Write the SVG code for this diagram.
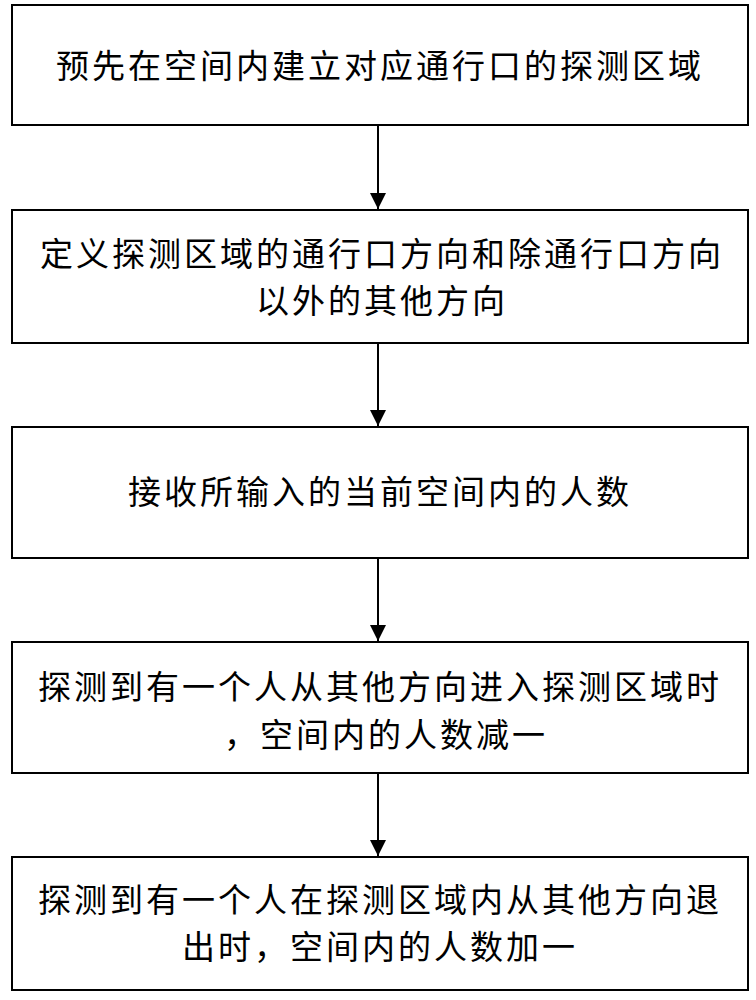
<svg xmlns="http://www.w3.org/2000/svg" width="756" height="1000" viewBox="0 0 756 1000">
<style>
.b{fill:#fff;stroke:#000;stroke-width:2}
.t{font-family:"Noto Sans CJK SC",sans-serif;font-size:33px;letter-spacing:3px;text-anchor:middle;fill:#000}
.c{stroke:#000;stroke-width:2;fill:none}
</style>
<defs><marker id="a" markerWidth="16" markerHeight="20" refX="16" refY="8" orient="auto" markerUnits="userSpaceOnUse"><path d="M0,0 L16,8 L0,16 Z" fill="#000"/></marker></defs>
<rect width="756" height="1000" fill="#fff"/>
<g id="n1"><rect class="b" x="12" y="5" width="736" height="120"/><text class="t" x="380" y="78">预先在空间内建立对应通行口的探测区域</text></g>
<g id="n2"><rect class="b" x="12" y="210" width="736" height="133"/><text class="t" x="382" y="266">定义探测区域的通行口方向和除通行口方向</text><text class="t" x="382" y="313">以外的其他方向</text></g>
<g id="n3"><rect class="b" x="12" y="427" width="736" height="131"/><text class="t" x="380" y="504">接收所输入的当前空间内的人数</text></g>
<g id="n4"><rect class="b" x="12" y="642" width="736" height="131"/><text class="t" x="380" y="699">探测到有一个人从其他方向进入探测区域时</text><text class="t" x="386" y="747">，空间内的人数减一</text></g>
<g id="n5"><rect class="b" x="12" y="857" width="736" height="133"/><text class="t" x="380" y="912">探测到有一个人在探测区域内从其他方向退</text><text class="t" x="380" y="959">出时，空间内的人数加一</text></g>
<g id="connectors">
<line class="c" x1="378" y1="125" x2="378" y2="209" marker-end="url(#a)"/>
<line class="c" x1="378" y1="343" x2="378" y2="426" marker-end="url(#a)"/>
<line class="c" x1="378" y1="558" x2="378" y2="641" marker-end="url(#a)"/>
<line class="c" x1="378" y1="773" x2="378" y2="856" marker-end="url(#a)"/>
</g>
</svg>
